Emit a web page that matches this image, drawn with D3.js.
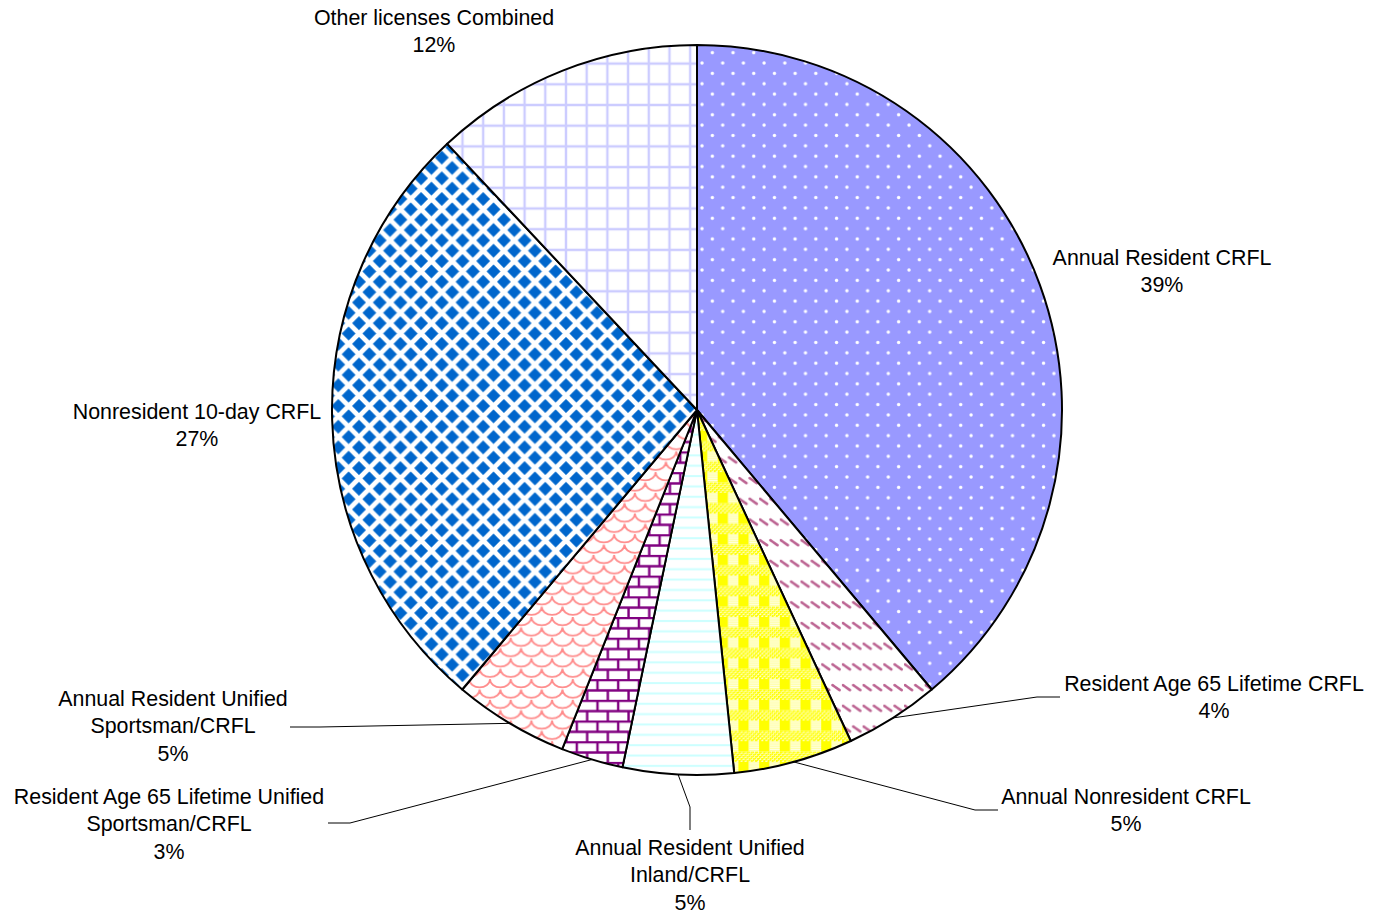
<!DOCTYPE html>
<html>
<head>
<meta charset="utf-8">
<script src="https://cdn.jsdelivr.net/npm/d3@7"></script>
<style>
    body { margin: 0; background: #fff; }
    text { font-family: "Liberation Sans", Arial, sans-serif; font-size: 21.4px; fill: #000; }
</style>
</head>
<body>
<div id="chart"></div>
<script>
// License categories, clockwise from 12 o'clock
const categories = [
    "Annual Resident CRFL",
    "Resident Age 65 Lifetime CRFL",
    "Annual Nonresident CRFL",
    "Annual Resident Unified Inland/CRFL",
    "Resident Age 65 Lifetime Unified Sportsman/CRFL",
    "Annual Resident Unified Sportsman/CRFL",
    "Nonresident 10-day CRFL",
    "Other licenses Combined"
];
// share of licenses (percent)
const shares = [38.9, 4.2, 5.3, 4.9, 2.75, 5.1, 26.9, 12.0];
// how each label is wrapped
const labelLines = [
    ["Annual Resident CRFL"],
    ["Resident Age 65 Lifetime CRFL"],
    ["Annual Nonresident CRFL"],
    ["Annual Resident Unified", "Inland/CRFL"],
    ["Resident Age 65 Lifetime Unified", "Sportsman/CRFL"],
    ["Annual Resident Unified", "Sportsman/CRFL"],
    ["Nonresident 10-day CRFL"],
    ["Other licenses Combined"]
];

document.addEventListener("DOMContentLoaded", function () {
    const width = 1374;
    const height = 914;
    const cx = 697, cy = 410, radius = 365;
    const T = 20.7; // pattern tile

    // label placement: center x, first baseline, leader bend and end (null = no leader)
    const labelPos = [
        { x: 1162, y: 265, leader: null },
        { x: 1214, y: 691, leader: [[1037, 697], [1060, 697]] },
        { x: 1126, y: 804, leader: [[975, 810], [998, 810]] },
        { x: 690, y: 855, leader: [[690, 807], [690, 830]] },
        { x: 169, y: 804, leader: [[350, 823], [328, 823]] },
        { x: 173, y: 706, leader: [[320, 727], [290, 727]] },
        { x: 197, y: 419, leader: null },
        { x: 434, y: 25, leader: null }
    ];

    const svg = d3.select("#chart")
        .append("svg")
        .attr("width", width)
        .attr("height", height);

    const defs = svg.append("defs");

    function makePattern(id, ox, oy) {
        return defs.append("pattern")
            .attr("id", id)
            .attr("patternUnits", "userSpaceOnUse")
            .attr("x", ox || 0)
            .attr("y", oy || 0)
            .attr("width", T)
            .attr("height", T);
    }

    // dots on lavender
    let p = makePattern("p0");
    p.append("rect").attr("width", T).attr("height", T).attr("fill", "#9999ff");
    p.append("circle").attr("cx", 5).attr("cy", 5).attr("r", 1.7).attr("fill", "#fff");
    p.append("circle").attr("cx", 5 + T / 2).attr("cy", 5 + T / 2).attr("r", 1.7).attr("fill", "#fff");

    // short diagonal dashes
    p = makePattern("p1");
    p.append("rect").attr("width", T).attr("height", T).attr("fill", "#fff");
    [1, 1 + T / 2].forEach(x => {
        p.append("line").attr("x1", x).attr("y1", 6).attr("x2", x + 7).attr("y2", 11)
            .attr("stroke", "#b0497f").attr("stroke-width", 2.6).attr("stroke-linecap", "round")
            .attr("stroke-dasharray", "2.4 0.8").attr("opacity", 0.85);
    });

    // yellow plaid
    p = makePattern("p2");
    p.append("rect").attr("width", T).attr("height", T).attr("fill", "#fff");
    p.append("rect").attr("x", 0).attr("y", 0).attr("width", T / 2).attr("height", T / 2).attr("fill", "#ffff00");
    for (let i = 0; i < 10; i++) {
        for (let j = 0; j < 5; j++) {
            p.append("rect")
                .attr("x", i * 2.07)
                .attr("y", T / 2 + j * 2.07)
                .attr("width", (i + j) % 2 ? 1.4 : 2.07).attr("height", (i + j) % 2 ? 1.4 : 2.07)
                .attr("fill", "#ffff00");
        }
    }
    for (let i = 0; i < 5; i++) {
        p.append("rect").attr("x", T / 2).attr("y", i * 2.07 + 0.4).attr("width", T / 2).attr("height", 1).attr("fill", "#ffff80");
    }

    // thin horizontal lines
    p = makePattern("p3");
    p.append("rect").attr("width", T).attr("height", T).attr("fill", "#fff");
    [3, 3 + T / 2].forEach(y => {
        p.append("rect").attr("x", 0).attr("y", y).attr("width", T).attr("height", 2).attr("fill", "#ccffff");
    });

    // bricks
    p = makePattern("p4");
    p.append("rect").attr("width", T).attr("height", T).attr("fill", "#fff");
    p.append("path")
        .attr("d", `M0,1 H${T} M0,${1 + T / 2} H${T} M4,1 V${1 + T / 2} M${4 + T / 2},${1 + T / 2} V${1 + T}`)
        .attr("stroke", "#800080").attr("stroke-width", 2.4).attr("fill", "none");

    // scales
    p = makePattern("p5");
    p.append("rect").attr("width", T).attr("height", T).attr("fill", "#fff");
    const h = T / 2;
    p.append("path")
        .attr("d", `M0,0 A${h},${h * 0.8} 0 0 0 ${T},0 M${-h},${h} A${h},${h * 0.8} 0 0 0 ${h},${h} M${h},${h} A${h},${h * 0.8} 0 0 0 ${T + h},${h} M0,${T} A${h},${h * 0.8} 0 0 0 ${T},${T}`)
        .attr("stroke", "#ff8c8c").attr("stroke-width", 1.8).attr("fill", "none");

    // diamonds
    p = makePattern("p6", cx, cy);
    p.append("rect").attr("width", T).attr("height", T).attr("fill", "#fff");
    const dd = 6.6;
    [[0, 0], [T, 0], [0, T], [T, T], [T / 2, T / 2]].forEach(([x, y]) => {
        p.append("path")
            .attr("d", `M${x},${y - dd} L${x + dd},${y} L${x},${y + dd} L${x - dd},${y} Z`)
            .attr("fill", "#0066cc").attr("stroke", "#0066cc").attr("stroke-width", 0.6).attr("stroke-linejoin", "round");
    });

    // grid
    p = makePattern("p7", cx, 88.3);
    p.append("rect").attr("width", T).attr("height", T).attr("fill", "#fff");
    p.append("path")
        .attr("d", `M0,0 V${T} M${T},0 V${T} M0,0 H${T} M0,${T} H${T}`)
        .attr("stroke", "#ccccff").attr("stroke-width", 2.4).attr("fill", "none");

    const data = categories.map((c, i) => ({ category: c, value: shares[i], lines: labelLines[i], pos: labelPos[i], idx: i }));
    const total = d3.sum(shares);

    const pie = d3.pie().value(d => d.value).sort(null);
    const arc = d3.arc().innerRadius(0).outerRadius(radius);
    const edgeArc = d3.arc().innerRadius(radius).outerRadius(radius);

    const g = svg.append("g").attr("transform", `translate(${cx},${cy})`);
    const arcs = pie(data);

    g.selectAll("path.slice")
        .data(arcs)
        .enter()
        .append("path")
        .attr("class", "slice")
        .attr("d", arc)
        .attr("fill", d => `url(#p${d.data.idx})`)
        .attr("stroke", "#000")
        .attr("stroke-width", 2)
        .attr("stroke-linejoin", "round");

    // leader lines
    g.selectAll("polyline.leader")
        .data(arcs.filter(d => d.data.pos.leader))
        .enter()
        .append("polyline")
        .attr("class", "leader")
        .attr("points", d => {
            const [sx, sy] = edgeArc.centroid(d);
            const pts = [[sx, sy]].concat(d.data.pos.leader.map(([x, y]) => [x - cx, y - cy]));
            return pts.map(q => q.join(",")).join(" ");
        })
        .attr("fill", "none")
        .attr("stroke", "#000")
        .attr("stroke-width", 1);

    // labels
    const labels = svg.selectAll("text.label")
        .data(data)
        .enter()
        .append("text")
        .attr("class", "label")
        .attr("text-anchor", "middle")
        .attr("x", d => d.pos.x)
        .attr("y", d => d.pos.y);

    labels.each(function (d) {
        const t = d3.select(this);
        const lines = d.lines.concat([Math.round(d.value / total * 100) + "%"]);
        lines.forEach((line, i) => {
            t.append("tspan")
                .attr("x", d.pos.x)
                .attr("dy", i === 0 ? 0 : 27.3)
                .text(line);
        });
    });
});
</script>
</body>
</html>
